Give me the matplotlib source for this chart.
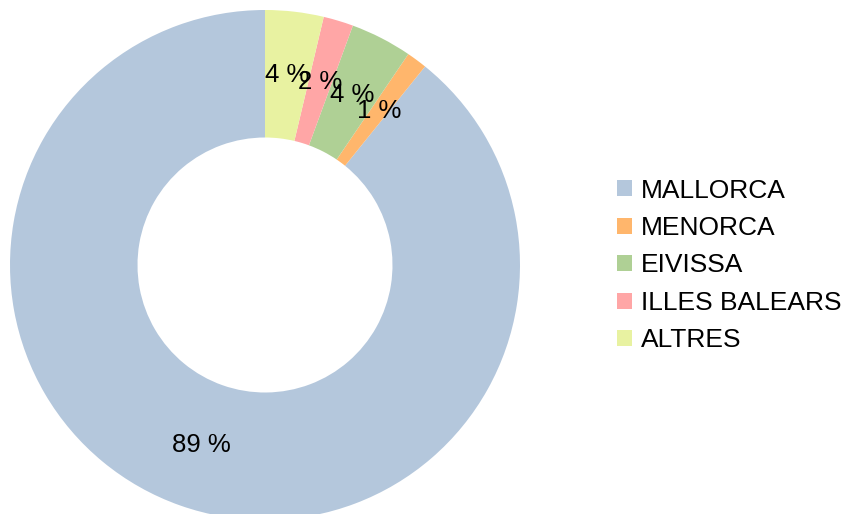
import matplotlib
matplotlib.use('Agg')
import matplotlib.pyplot as plt
from matplotlib.patches import Patch

plt.rcParams['font.family'] = ['Liberation Sans', 'DejaVu Sans']

categories = ['MALLORCA', 'MENORCA', 'EIVISSA', 'ILLES BALEARS', 'ALTRES']
values = [89.2, 1.3, 3.9, 1.9, 3.7]
colors = ['#b4c7dc', '#ffb66c', '#afd095', '#ffa6a6', '#e8f2a1']

W, H = 846, 514
fig = plt.figure(figsize=(W / 100, H / 100), dpi=100)

# donut centre at (265, 265) px, outer radius 255 px
cx, cy, r = 265, 265, 255
ax = fig.add_axes([(cx - r) / W, (H - cy - r) / H, 2 * r / W, 2 * r / H])
wedges, texts, autotexts = ax.pie(
    values, colors=colors, startangle=90, counterclock=True,
    radius=1, autopct='%.0f %%', pctdistance=0.75,
    wedgeprops=dict(width=0.5, linewidth=0),
    textprops=dict(fontsize=18.5, color='black'))
ax.set_xlim(-1, 1)
ax.set_ylim(-1, 1)
ax.set_aspect('equal')
ax.axis('off')

handles = [Patch(facecolor=c, edgecolor='none') for c in colors]
fig.legend(handles, categories, loc='center left',
           bbox_to_anchor=(617 / W, 1 - 265.5 / H), bbox_transform=fig.transFigure,
           frameon=False, fontsize=19, handlelength=0.57, handleheight=0.57,
           handletextpad=0.34, borderpad=0, borderaxespad=0, labelspacing=0.51)

fig.savefig('out.png', dpi=100)
